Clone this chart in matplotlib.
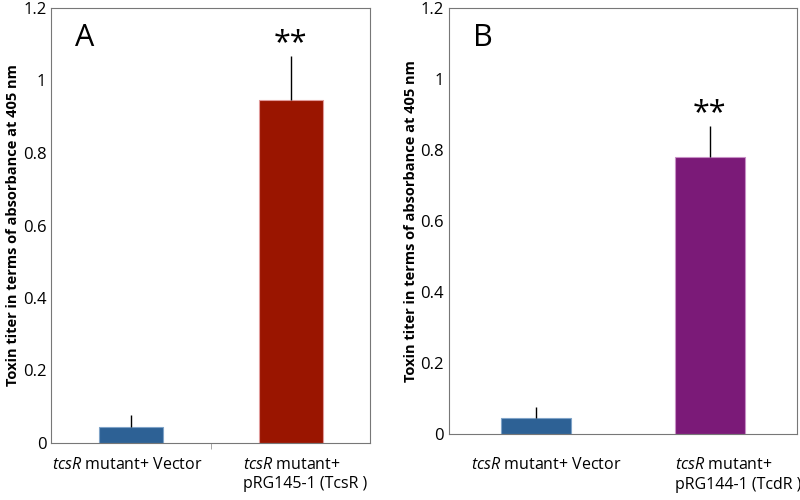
import matplotlib
matplotlib.use("Agg")
import matplotlib.pyplot as plt

plt.rcParams['font.family'] = ['Open Sans', 'DejaVu Sans']
plt.rcParams['mathtext.fontset'] = 'custom'
plt.rcParams['mathtext.rm'] = 'Open Sans'
plt.rcParams['mathtext.it'] = 'Open Sans:italic'

# panel A
labels_a = [r"$\it{tcsR}$ mutant+ Vector", r"$\it{tcsR}$ mutant+" + "\npRG145-1 (TcsR )"]
values_a = [0.044, 0.945]
errors_a = [0.033, 0.122]
colors_a = ['#2d6195', '#9a1500']
edges_a = ['#7fa3c8', '#e09a9a']

# panel B
labels_b = [r"$\it{tcsR}$ mutant+ Vector", r"$\it{tcsR}$ mutant+" + "\npRG144-1 (TcdR )"]
values_b = [0.044, 0.779]
errors_b = [0.031, 0.089]
colors_b = ['#2d6195', '#7b1a78']
edges_b = ['#7fa3c8', '#c890c6']

yticks = [0, 0.2, 0.4, 0.6, 0.8, 1.0, 1.2]
ytick_labels = ['0', '0.2', '0.4', '0.6', '0.8', '1', '1.2']
ylabel = "Toxin titer in terms of absorbance at 405 nm"

fig = plt.figure(figsize=(8, 5), dpi=100)
ax_a = fig.add_axes([0.064, 0.114, 0.399, 0.87])
ax_b = fig.add_axes([0.561, 0.132, 0.435, 0.852])


def draw(ax, labels, values, errors, colors, edges, letter, letter_x,
         minor_ticks, label_x, label_off):
    x = list(range(len(values)))
    ax.bar(x, values, width=0.4, color=colors, edgecolor=edges, linewidth=0.8,
           yerr=[[0] * len(errors), errors],
           error_kw=dict(ecolor='black', elinewidth=1, capsize=0), zorder=2)
    ax.set_xlim(-0.5, 1.5)
    ax.set_ylim(0, 1.2)
    ax.set_yticks(yticks)
    ax.set_yticklabels(ytick_labels, fontsize=12)
    ax.set_xticks(x)
    ax.set_xticklabels([])
    ax.tick_params(axis='both', length=0)
    ax.set_xticks(minor_ticks, minor=True)
    ax.tick_params(axis='x', which='minor', length=4, color='#999999', direction='out')
    for s in ax.spines.values():
        s.set_color('#777777')
    ax.set_ylabel(ylabel, fontsize=10.5, fontweight='bold', labelpad=2)
    ax.text(letter_x, 0.93, letter, transform=ax.transAxes, fontsize=22, va='center', ha='left')
    ax.text(1, values[1] + errors[1] + 0.037, '**', fontsize=22, ha='center', va='center')
    ax.annotate(labels[0], xy=(label_x[0], 0), xycoords=('data', 'axes fraction'),
                xytext=(0, label_off), textcoords='offset points',
                ha='center', va='top', fontsize=11.5)
    ax.annotate(labels[1], xy=(label_x[1], 0), xycoords=('data', 'axes fraction'),
                xytext=(0, label_off), textcoords='offset points',
                ha='left', va='top', fontsize=11.5, multialignment='left',
                linespacing=1.3)


draw(ax_a, labels_a, values_a, errors_a, colors_a, edges_a, 'A', 0.075, [0.5],
     [-0.02, 0.70], -10)
draw(ax_b, labels_b, values_b, errors_b, colors_b, edges_b, 'B', 0.069, [0, 1],
     [0.06, 0.80], -16.5)

fig.savefig('out.png', dpi=100)
